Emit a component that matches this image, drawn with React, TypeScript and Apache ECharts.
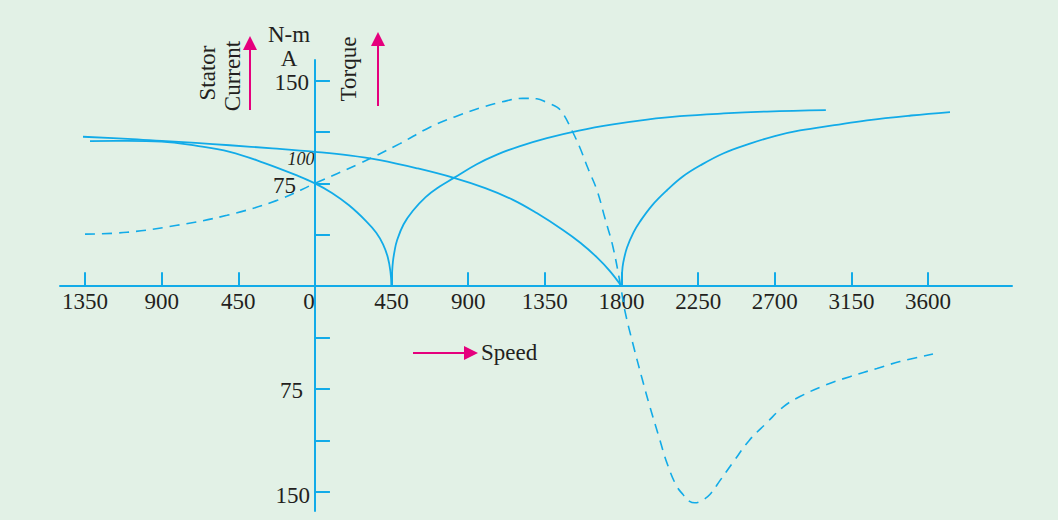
import React, { useEffect, useRef } from "react";
import * as echarts from "echarts";

const xTickValues = [-1350, -900, -450, 450, 900, 1350, 1800, 2250, 2700, 3150, 3600];
const xLabelValues = [-1350, -900, -450, 0, 450, 900, 1350, 1800, 2250, 2700, 3150, 3600];
const yTickValues = [150, 112.5, 75, 37.5, -37.5, -75, -112.5, -150];
const yLabelValues = [150, 75, -75, -150];

// stator current, long branch (zero at 1800)
const currentLong = [
  [-1362, 109], [-1100, 107.5], [-900, 106], [-700, 104.5], [-500, 102.8], [-250, 100.5],
  [0, 98], [200, 95.5], [382, 92], [600, 86], [816, 79], [1000, 71.5], [1163, 63],
  [1300, 53.5], [1456, 41], [1560, 31.5], [1656, 21], [1732, 11], [1800, 0],
];
// stator current, branch with zero at 450
const currentLeft = [
  [-1321, 105.8], [-1100, 106], [-900, 105.5], [-700, 102.5], [-500, 98], [-300, 90],
  [-100, 80.5], [0, 75], [100, 68], [200, 59], [300, 47.5], [360, 39], [400, 30.5],
  [428, 21], [443, 11], [450, 0],
];
const currentRight = [
  [450, 0], [453, 10], [458, 18], [468, 26], [481, 33], [520, 45], [575, 55], [650, 65],
  [730, 72.5], [816, 79], [950, 89], [1069, 96], [1200, 102], [1362, 108], [1550, 113.5],
  [1750, 118], [1950, 121.5], [2143, 124], [2400, 126], [2654, 127.4], [3000, 128.5],
];
// stator current, branch starting at 1800
const currentHigh = [
  [1800, 0], [1803, 9], [1810, 17], [1832, 28], [1870, 39], [1908, 47], [1980, 59],
  [2067, 70], [2160, 80], [2261, 88], [2400, 97], [2554, 104], [2700, 109.5],
  [2848, 113.6], [3050, 117.5], [3241, 121], [3500, 124.5], [3729, 127],
];
// torque (dashed)
const torque = [
  [-1350, 38], [-1104, 39.3], [-810, 44.4], [-517, 51.7], [-223, 62.6], [0, 75], [264, 89.6],
  [499, 104], [675, 116], [820, 123.5], [969, 130], [1100, 134.5], [1221, 137], [1303, 136.7],
  [1362, 134], [1421, 130.6], [1456, 126], [1509, 113.6], [1556, 101], [1603, 86], [1656, 70],
  [1703, 49.5], [1750, 28.6], [1795, 0], [1820, -18], [1867, -42], [1920, -67], [1967, -88],
  [2020, -110], [2067, -129], [2120, -145], [2161, -152], [2200, -157], [2231, -158],
  [2270, -156.5], [2319, -152], [2380, -141.5], [2455, -128.5], [2550, -112.5], [2654, -99.5],
  [2750, -88], [2848, -80.5], [3000, -72], [3141, -66], [3300, -60], [3435, -55], [3629, -49.5],
];

const X_MIN = -1497;
const X_MAX = 4093;
const Y_MIN = -164;
const Y_MAX = 165;
const GRID = { left: 60, right: 46, top: 60, bottom: 9 };

const BLUE = "#12abe8";
const MAGENTA = "#e5007d";
const TEXT = "#231f20";
const FONT = "'Liberation Serif', 'DejaVu Serif', serif";
const FS = 23;

export default function App() {
  const ref = useRef<HTMLDivElement>(null);
  useEffect(() => {
    const chart = echarts.init(ref.current!, null, { renderer: "svg" });
    const gw = 1058 - GRID.left - GRID.right;
    const gh = 520 - GRID.top - GRID.bottom;
    const yAxisOffset = -((0 - X_MIN) / (X_MAX - X_MIN)) * gw;
    const xAxisOffset = -((0 - Y_MIN) / (Y_MAX - Y_MIN)) * gh;
    const solid = (name: string, data: number[][]) => ({
      name,
      type: "line",
      data,
      smooth: 0.4,
      showSymbol: false,
      symbol: "none",
      lineStyle: { color: BLUE, width: 1.8 },
      z: 3,
    });
    const txt = (text: string) => ({ fontFamily: FONT, fontSize: FS, fill: TEXT, text, textAlign: "center", textVerticalAlign: "middle" });
    chart.setOption({
      animation: false,
      backgroundColor: "#e2f1e6",
      grid: { ...GRID, containLabel: false, outerBoundsMode: "none" },
      xAxis: {
        type: "value",
        min: X_MIN,
        max: X_MAX,
        position: "bottom",
        offset: xAxisOffset,
        splitLine: { show: false },
        axisLine: { onZero: false, lineStyle: { color: BLUE, width: 2 } },
        axisTick: { show: true, inside: true, length: 14, customValues: xTickValues, lineStyle: { color: BLUE, width: 2 } },
        axisLabel: {
          customValues: xLabelValues,
          margin: 4,
          hideOverlap: false,
          fontFamily: FONT,
          fontSize: FS,
          color: TEXT,
          formatter: (v: number) => (v === 0 ? "{z|0}" : String(Math.abs(v))),
          rich: { z: { fontFamily: FONT, fontSize: FS, color: TEXT, padding: [0, 12, 0, 0] } },
        },
      },
      yAxis: {
        type: "value",
        min: Y_MIN,
        max: Y_MAX,
        position: "left",
        offset: yAxisOffset,
        splitLine: { show: false },
        axisLine: { onZero: false, lineStyle: { color: BLUE, width: 2 } },
        axisTick: { show: true, inside: true, length: 15, customValues: yTickValues, lineStyle: { color: BLUE, width: 2 } },
        axisLabel: {
          customValues: yLabelValues,
          margin: 5,
          hideOverlap: false,
          fontFamily: FONT,
          fontSize: FS,
          color: TEXT,
          formatter: (v: number) =>
            v === 150 ? "{a|150}" : v === 75 ? "{b|75}" : v === -75 ? "{c|75}" : "{d|150}",
          rich: {
            a: { fontFamily: FONT, fontSize: FS, color: TEXT, padding: [4, 1, 0, 0] },
            b: { fontFamily: FONT, fontSize: FS, color: TEXT, padding: [5, 14, 0, 0] },
            c: { fontFamily: FONT, fontSize: FS, color: TEXT, padding: [3, 7, 0, 0] },
            d: { fontFamily: FONT, fontSize: FS, color: TEXT, padding: [7, 0, 0, 0] },
          },
        },
      },
      series: [
        solid("Stator current 1", currentLong),
        solid("Stator current 2a", currentLeft),
        solid("Stator current 2b", currentRight),
        solid("Stator current 3", currentHigh),
        {
          name: "Torque",
          type: "line",
          data: torque,
          smooth: 0.4,
          showSymbol: false,
          symbol: "none",
          lineStyle: { color: BLUE, width: 1.6, type: [10, 7] },
          z: 3,
        },
      ],
      graphic: [
        { type: "text", x: 301, y: 159, style: { text: "100", fontFamily: FONT, fontStyle: "italic", fontSize: 18, fill: TEXT, textAlign: "center", textVerticalAlign: "middle" } },
        { type: "text", x: 289, y: 34, style: txt("N-m") },
        { type: "text", x: 289, y: 58, style: txt("A") },
        { type: "text", x: 207, y: 73, rotation: Math.PI / 2, style: txt("Stator") },
        { type: "text", x: 232, y: 76, rotation: Math.PI / 2, style: txt("Current") },
        { type: "text", x: 348, y: 69, rotation: Math.PI / 2, style: txt("Torque") },
        { type: "line", shape: { x1: 250, y1: 110, x2: 250, y2: 48 }, style: { stroke: MAGENTA, lineWidth: 2 } },
        { type: "polygon", shape: { points: [[243, 50], [250, 36], [257, 50]] }, style: { fill: MAGENTA } },
        { type: "line", shape: { x1: 378, y1: 106, x2: 378, y2: 44 }, style: { stroke: MAGENTA, lineWidth: 2 } },
        { type: "polygon", shape: { points: [[371, 46], [378, 32], [385, 46]] }, style: { fill: MAGENTA } },
        { type: "line", shape: { x1: 413, y1: 353, x2: 466, y2: 353 }, style: { stroke: MAGENTA, lineWidth: 2 } },
        { type: "polygon", shape: { points: [[464, 346], [478, 353], [464, 360]] }, style: { fill: MAGENTA } },
        { type: "text", x: 481, y: 352, style: { ...txt("Speed"), textAlign: "left" } },
      ],
    });
    return () => chart.dispose();
  }, []);
  return (
    <div style={{ position: "absolute", left: 0, top: 0, width: 1058, height: 520, background: "#e2f1e6" }}>
      <div ref={ref} style={{ width: 1058, height: 520 }} />
    </div>
  );
}
